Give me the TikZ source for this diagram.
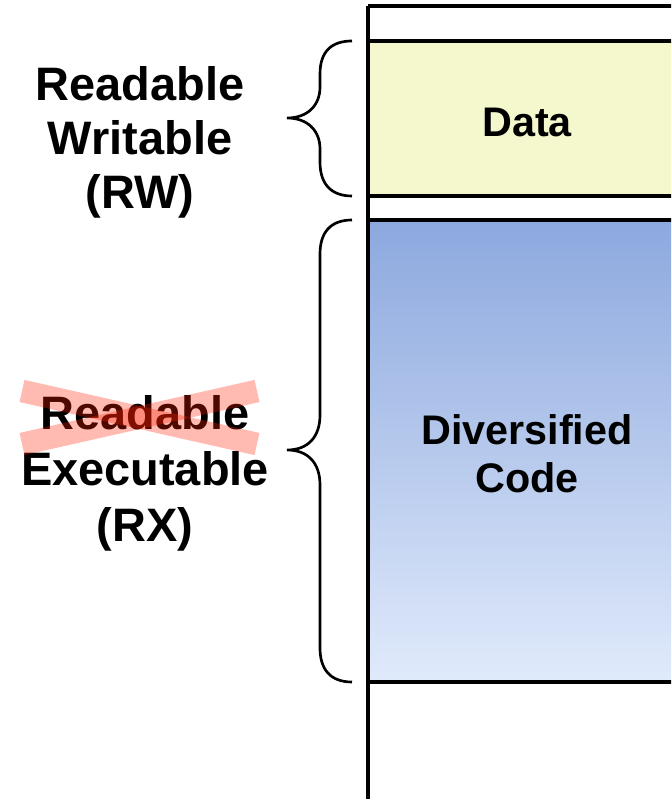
\documentclass[tikz,border=0pt]{standalone}
\usepackage{fontspec}
\setmainfont{Liberation Sans}
\begin{document}
\begin{tikzpicture}[x=0.75pt,y=0.75pt,
  segline/.style={line width=2.4pt,black},
  bracestroke/.style={line width=2pt,black},
  sidelabel/.style={align=center,font=\bfseries\fontsize{35.2}{40.5}\selectfont,inner sep=0pt},
  boxlabel/.style={align=center,font=\bfseries\fontsize{31}{36}\selectfont,inner sep=0pt},
  strike/.style={line width=17pt,strikered,opacity=0.3}]
\definecolor{datafill}{RGB}{245,247,204}
\definecolor{codetop}{RGB}{140,168,222}
\definecolor{codebot}{RGB}{224,234,251}
\definecolor{strikered}{RGB}{255,30,0}
\useasboundingbox (0,0) rectangle (671,799);
\clip (0,0) rectangle (671,799);

% memory column
\draw[segline] (368,793) -- (680,793);
\draw[segline] (368,0) -- (368,793);
\draw[segline,fill=datafill] (368,603) rectangle (680,758);
\draw[segline,top color=codetop,bottom color=codebot] (368,117) rectangle (680,579);

% segment names
\node[boxlabel] (data) at (527,677) {Data};
\node[boxlabel] (code) at (527,345) {Diversified\\Code};

% braces
\coordinate (b1top) at (352,758);
\coordinate (b1bot) at (352,603);
\coordinate (b1tip) at (287,681);
\draw[bracestroke] (b1top) .. controls (332,758) and (320,748) .. (320,725)
  -- (320,712) .. controls (320,694) and (308,681) .. (b1tip)
  .. controls (308,681) and (320,668) .. (320,650)
  -- (320,637) .. controls (320,614) and (332,603) .. (b1bot);

\coordinate (b2top) at (352,579);
\coordinate (b2bot) at (352,117);
\coordinate (b2tip) at (287,349);
\draw[bracestroke] (b2top) .. controls (330,579) and (320,566) .. (320,545)
  -- (320,384) .. controls (320,362) and (308,349) .. (b2tip)
  .. controls (308,349) and (320,336) .. (320,314)
  -- (320,151) .. controls (320,130) and (330,117) .. (b2bot);

% permission labels
\node[sidelabel] (rw) at (140,657) {Readable\\Writable\\(RW)};
\node[sidelabel,font=\bfseries\fontsize{35.2}{42}\selectfont] (rx) at (145,326) {Readable\\Executable\\(RX)};

% crossed-out "Readable"
\coordinate (xa) at (22,408);
\coordinate (xb) at (257,355);
\coordinate (xc) at (22,355);
\coordinate (xd) at (257,408);
\draw[strike] (xa) -- (xb);
\draw[strike] (xc) -- (xd);
\end{tikzpicture}
\end{document}
